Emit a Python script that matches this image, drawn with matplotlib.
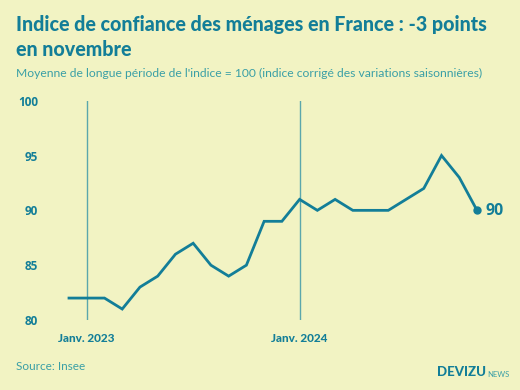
import matplotlib
matplotlib.use('Agg')
import matplotlib.pyplot as plt

# Consumer confidence index, Dec 2022 -> Nov 2024 (monthly)
months = ['2022-12',
          '2023-01', '2023-02', '2023-03', '2023-04', '2023-05', '2023-06',
          '2023-07', '2023-08', '2023-09', '2023-10', '2023-11', '2023-12',
          '2024-01', '2024-02', '2024-03', '2024-04', '2024-05', '2024-06',
          '2024-07', '2024-08', '2024-09', '2024-10', '2024-11']
values = [82, 82, 82, 81, 83, 84, 86, 87, 85, 84, 85, 89, 89,
          91, 90, 91, 90, 90, 90, 91, 92, 95, 93, 90]
year_marks = ['2023-01', '2024-01']
year_labels = ['Janv. 2023', 'Janv. 2024']
yticks = [80, 85, 90, 95, 100]

bg = '#F2F3C3'
teal = '#137E98'
light = '#3A9FA6'
vline = '#5BA7AC'

plt.rcParams['font.family'] = ['Lato', 'DejaVu Sans']
num_font = ['Open Sans', 'DejaVu Sans']

W, H = 520, 390
fig = plt.figure(figsize=(W / 100, H / 100), dpi=100)
fig.patch.set_facecolor(bg)

# axes placed in pixels
left, right, top, bottom = 50, 500, 100.7, 320
ax = fig.add_axes([left / W, 1 - bottom / H, (right - left) / W, (bottom - top) / H])
ax.set_facecolor(bg)

x = list(range(len(months)))
# x scale: first point at px 69, last at px 477
ppm = (477 - 69) / (len(x) - 1)
ax.set_xlim(-(69 - left) / ppm, x[-1] + (right - 477) / ppm)
ax.set_ylim(80, 100)

for m in year_marks:
    ax.axvline(months.index(m), color=vline, lw=1.0, zorder=1)

ax.plot(x, values, color=teal, lw=2.0, solid_joinstyle='miter', zorder=3)
ax.plot(x[-1], values[-1], 'o', color=teal, ms=5, zorder=4)
ax.annotate(str(values[-1]), (x[-1], values[-1]), xytext=(6, -0.5),
            textcoords='offset points', va='center', ha='left',
            color=teal, fontsize=11.5, fontweight='bold', family=num_font)

for s in ax.spines.values():
    s.set_visible(False)
ax.set_yticks(yticks)
ax.set_yticklabels([str(t) for t in yticks], fontweight='bold', color=teal,
                   fontsize=8.5, family=num_font)
ax.set_xticks([months.index(m) for m in year_marks])
ax.set_xticklabels(year_labels, fontweight='black', color=teal, fontsize=8.5)
ax.tick_params(axis='both', length=0)
ax.tick_params(axis='y', pad=8.6)
ax.tick_params(axis='x', pad=9)

fig.text(16 / W, 1 - 31 / H, 'Indice de confiance des ménages en France : -3 points',
         color=teal, fontsize=14.1, fontweight='black', va='baseline')
fig.text(16 / W, 1 - 56 / H, 'en novembre',
         color=teal, fontsize=14.1, fontweight='black', va='baseline')
fig.text(16 / W, 1 - 77 / H,
         "Moyenne de longue période de l'indice = 100 (indice corrigé des variations saisonnières)",
         color=light, fontsize=8.7, va='baseline')
fig.text(16 / W, 1 - 370 / H, 'Source: Insee', color=light, fontsize=8.5, va='baseline')
logo = fig.text(437 / W, 1 - 376 / H, 'DEVIZU', color=teal, fontsize=9.5,
                fontweight='black', va='baseline')
ax.annotate('NEWS', xy=(1, 0), xycoords=logo, xytext=(1, 0),
            textcoords='offset points', color=light, fontsize=5.5,
            va='bottom', ha='left', annotation_clip=False)

fig.savefig('out.png', dpi=100, facecolor=bg)
